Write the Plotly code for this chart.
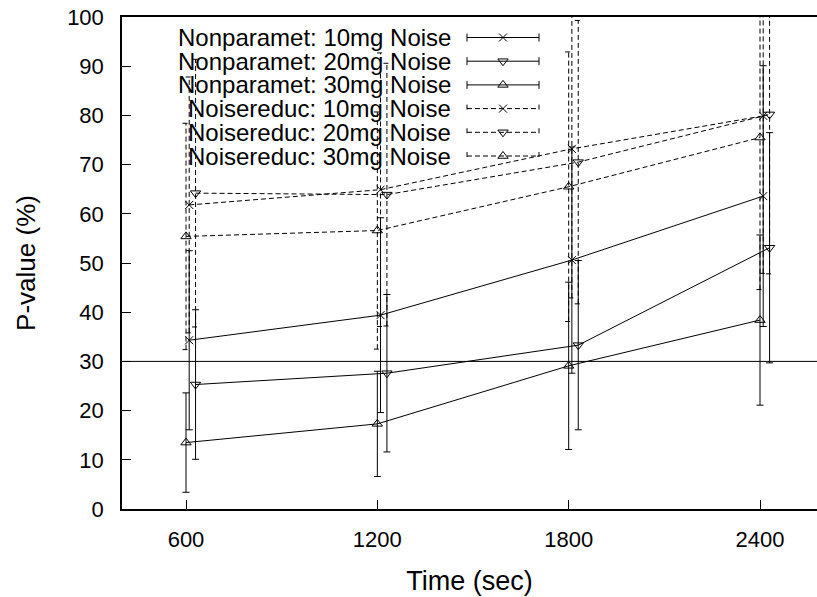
import plotly.graph_objects as go

# ---------------- data ----------------
times = [600, 1200, 1800, 2400]

np10 = [34.3, 39.4, 50.6, 63.6]
np10_err = [18.2, 19.8, 23.0, 26.5]
np20 = [25.3, 27.6, 33.3, 53.1]
np20_err = [15.2, 16.0, 17.2, 23.4]
np30 = [13.5, 17.3, 29.1, 38.4]
np30_err = [10.1, 10.7, 17.0, 17.3]

nr10 = [61.8, 64.9, 73.2, 79.9]
nr10_err = [26.0, 27.8, 30.3, 32.0]
nr20 = [64.2, 63.9, 70.5, 80.2]
nr20_err = [27.2, 26.7, 28.8, 32.4]
nr30 = [55.4, 56.6, 65.5, 75.5]
nr30_err = [23.0, 24.1, 27.4, 30.9]

threshold = 30

series_names = [
    "Nonparamet: 10mg Noise",
    "Nonparamet: 20mg Noise",
    "Nonparamet: 30mg Noise",
    "Noisereduc: 10mg Noise",
    "Noisereduc: 20mg Noise",
    "Noisereduc: 30mg Noise",
]
y_ticks = [0, 10, 20, 30, 40, 50, 60, 70, 80, 90, 100]

# ---------------- style ----------------
FONT = "Liberation Sans, Arial, Helvetica, sans-serif"
W, H = 817, 597
L, R, T, B = 122, 0, 17, 88
X_RANGE = [399.3, 2578.7]
px_per_unit = (W - L - R) / (X_RANGE[1] - X_RANGE[0])
cap_half = 3.5 / px_per_unit
shift = {"10mg": 10, "20mg": 30, "30mg": 0}
DASH = "5px,3px"

series = [
    (series_names[0], np10, np10_err, "10mg", "x-thin", 8, "solid"),
    (series_names[1], np20, np20_err, "20mg", "triangle-down-open", 9, "solid"),
    (series_names[2], np30, np30_err, "30mg", "triangle-up-open", 9, "solid"),
    (series_names[3], nr10, nr10_err, "10mg", "x-thin", 8, DASH),
    (series_names[4], nr20, nr20_err, "20mg", "triangle-down-open", 9, DASH),
    (series_names[5], nr30, nr30_err, "30mg", "triangle-up-open", 9, DASH),
]

fig = go.Figure()

for name, vals, errs, dose, sym, msize, dash in series:
    xs = [t + shift[dose] for t in times]
    ex, ey = [], []
    for x, v, e in zip(xs, vals, errs):
        lo, hi = v - e, v + e
        ex += [x, x, None, x - cap_half, x + cap_half, None, x - cap_half, x + cap_half, None]
        ey += [lo, hi, None, lo, lo, None, hi, hi, None]
    fig.add_trace(go.Scatter(
        x=ex, y=ey, mode="lines", showlegend=False, hoverinfo="skip",
        line=dict(color="black", width=1, dash=dash),
    ))
    fig.add_trace(go.Scatter(
        x=xs, y=vals, mode="lines+markers", name=name, showlegend=False,
        line=dict(color="black", width=1, dash=dash),
        marker=dict(symbol=sym, size=msize, color="black",
                    line=dict(color="black", width=1)),
    ))

# ---------- manual gnuplot-style legend (text, then sample) ----------
leg_text_right = 453
leg_x0, leg_x1 = 467, 539
leg_y0, leg_dy = 37.5, 23.7
for i, (name, vals, errs, dose, sym, msize, dash) in enumerate(series):
    yc = leg_y0 + i * leg_dy
    fig.add_annotation(
        x=leg_text_right, y=yc, xref="x2", yref="y2", text=name, showarrow=False,
        xanchor="right", yanchor="middle", font=dict(family=FONT, size=24, color="black"),
    )
    fig.add_trace(go.Scatter(
        x=[leg_x0, leg_x1, None, leg_x0, leg_x0, None, leg_x1, leg_x1],
        y=[yc, yc, None, yc - 4, yc + 4, None, yc - 4, yc + 4],
        xaxis="x2", yaxis="y2", mode="lines", showlegend=False, hoverinfo="skip",
        line=dict(color="black", width=1, dash=dash),
    ))
    fig.add_trace(go.Scatter(
        x=[(leg_x0 + leg_x1) / 2], y=[yc], xaxis="x2", yaxis="y2", mode="markers",
        showlegend=False, hoverinfo="skip",
        marker=dict(symbol=sym, size=msize, color="black", line=dict(color="black", width=1)),
    ))

fig.add_shape(type="line", xref="paper", yref="y", x0=0, x1=1, y0=threshold, y1=threshold,
              line=dict(color="black", width=1))

fig.update_layout(
    width=W, height=H,
    margin=dict(l=L, r=R, t=T, b=B, autoexpand=False),
    paper_bgcolor="white", plot_bgcolor="white",
    font=dict(family=FONT, size=22, color="black"),
    showlegend=False,
    xaxis=dict(
        range=X_RANGE, tickvals=times, ticktext=[str(t) for t in times],
        showgrid=False, zeroline=False, automargin=False,
        showline=True, linecolor="black", linewidth=1.5, mirror=True,
        ticks="inside", ticklen=9, tickwidth=1, tickcolor="black",
        ticklabelstandoff=10,
        title=dict(text="Time (sec)", font=dict(family=FONT, size=27), standoff=20),
    ),
    yaxis=dict(
        range=[0, 100], tickvals=y_ticks,
        showgrid=False, zeroline=False, automargin=False,
        showline=True, linecolor="black", linewidth=1.5,
        ticks="inside", ticklen=9, tickwidth=1, tickcolor="black",
        ticklabelstandoff=12,
        title=dict(text="P-value (%)", font=dict(family=FONT, size=26), standoff=24),
    ),
    xaxis2=dict(range=[L, W - R], overlaying="x", visible=False, fixedrange=True),
    yaxis2=dict(range=[H - B, T], overlaying="y", visible=False, fixedrange=True),
)

fig.write_html(
    "out.html",
    config={"displayModeBar": False},
    post_script="document.body.style.margin='0';document.body.style.overflow='hidden';",
)
